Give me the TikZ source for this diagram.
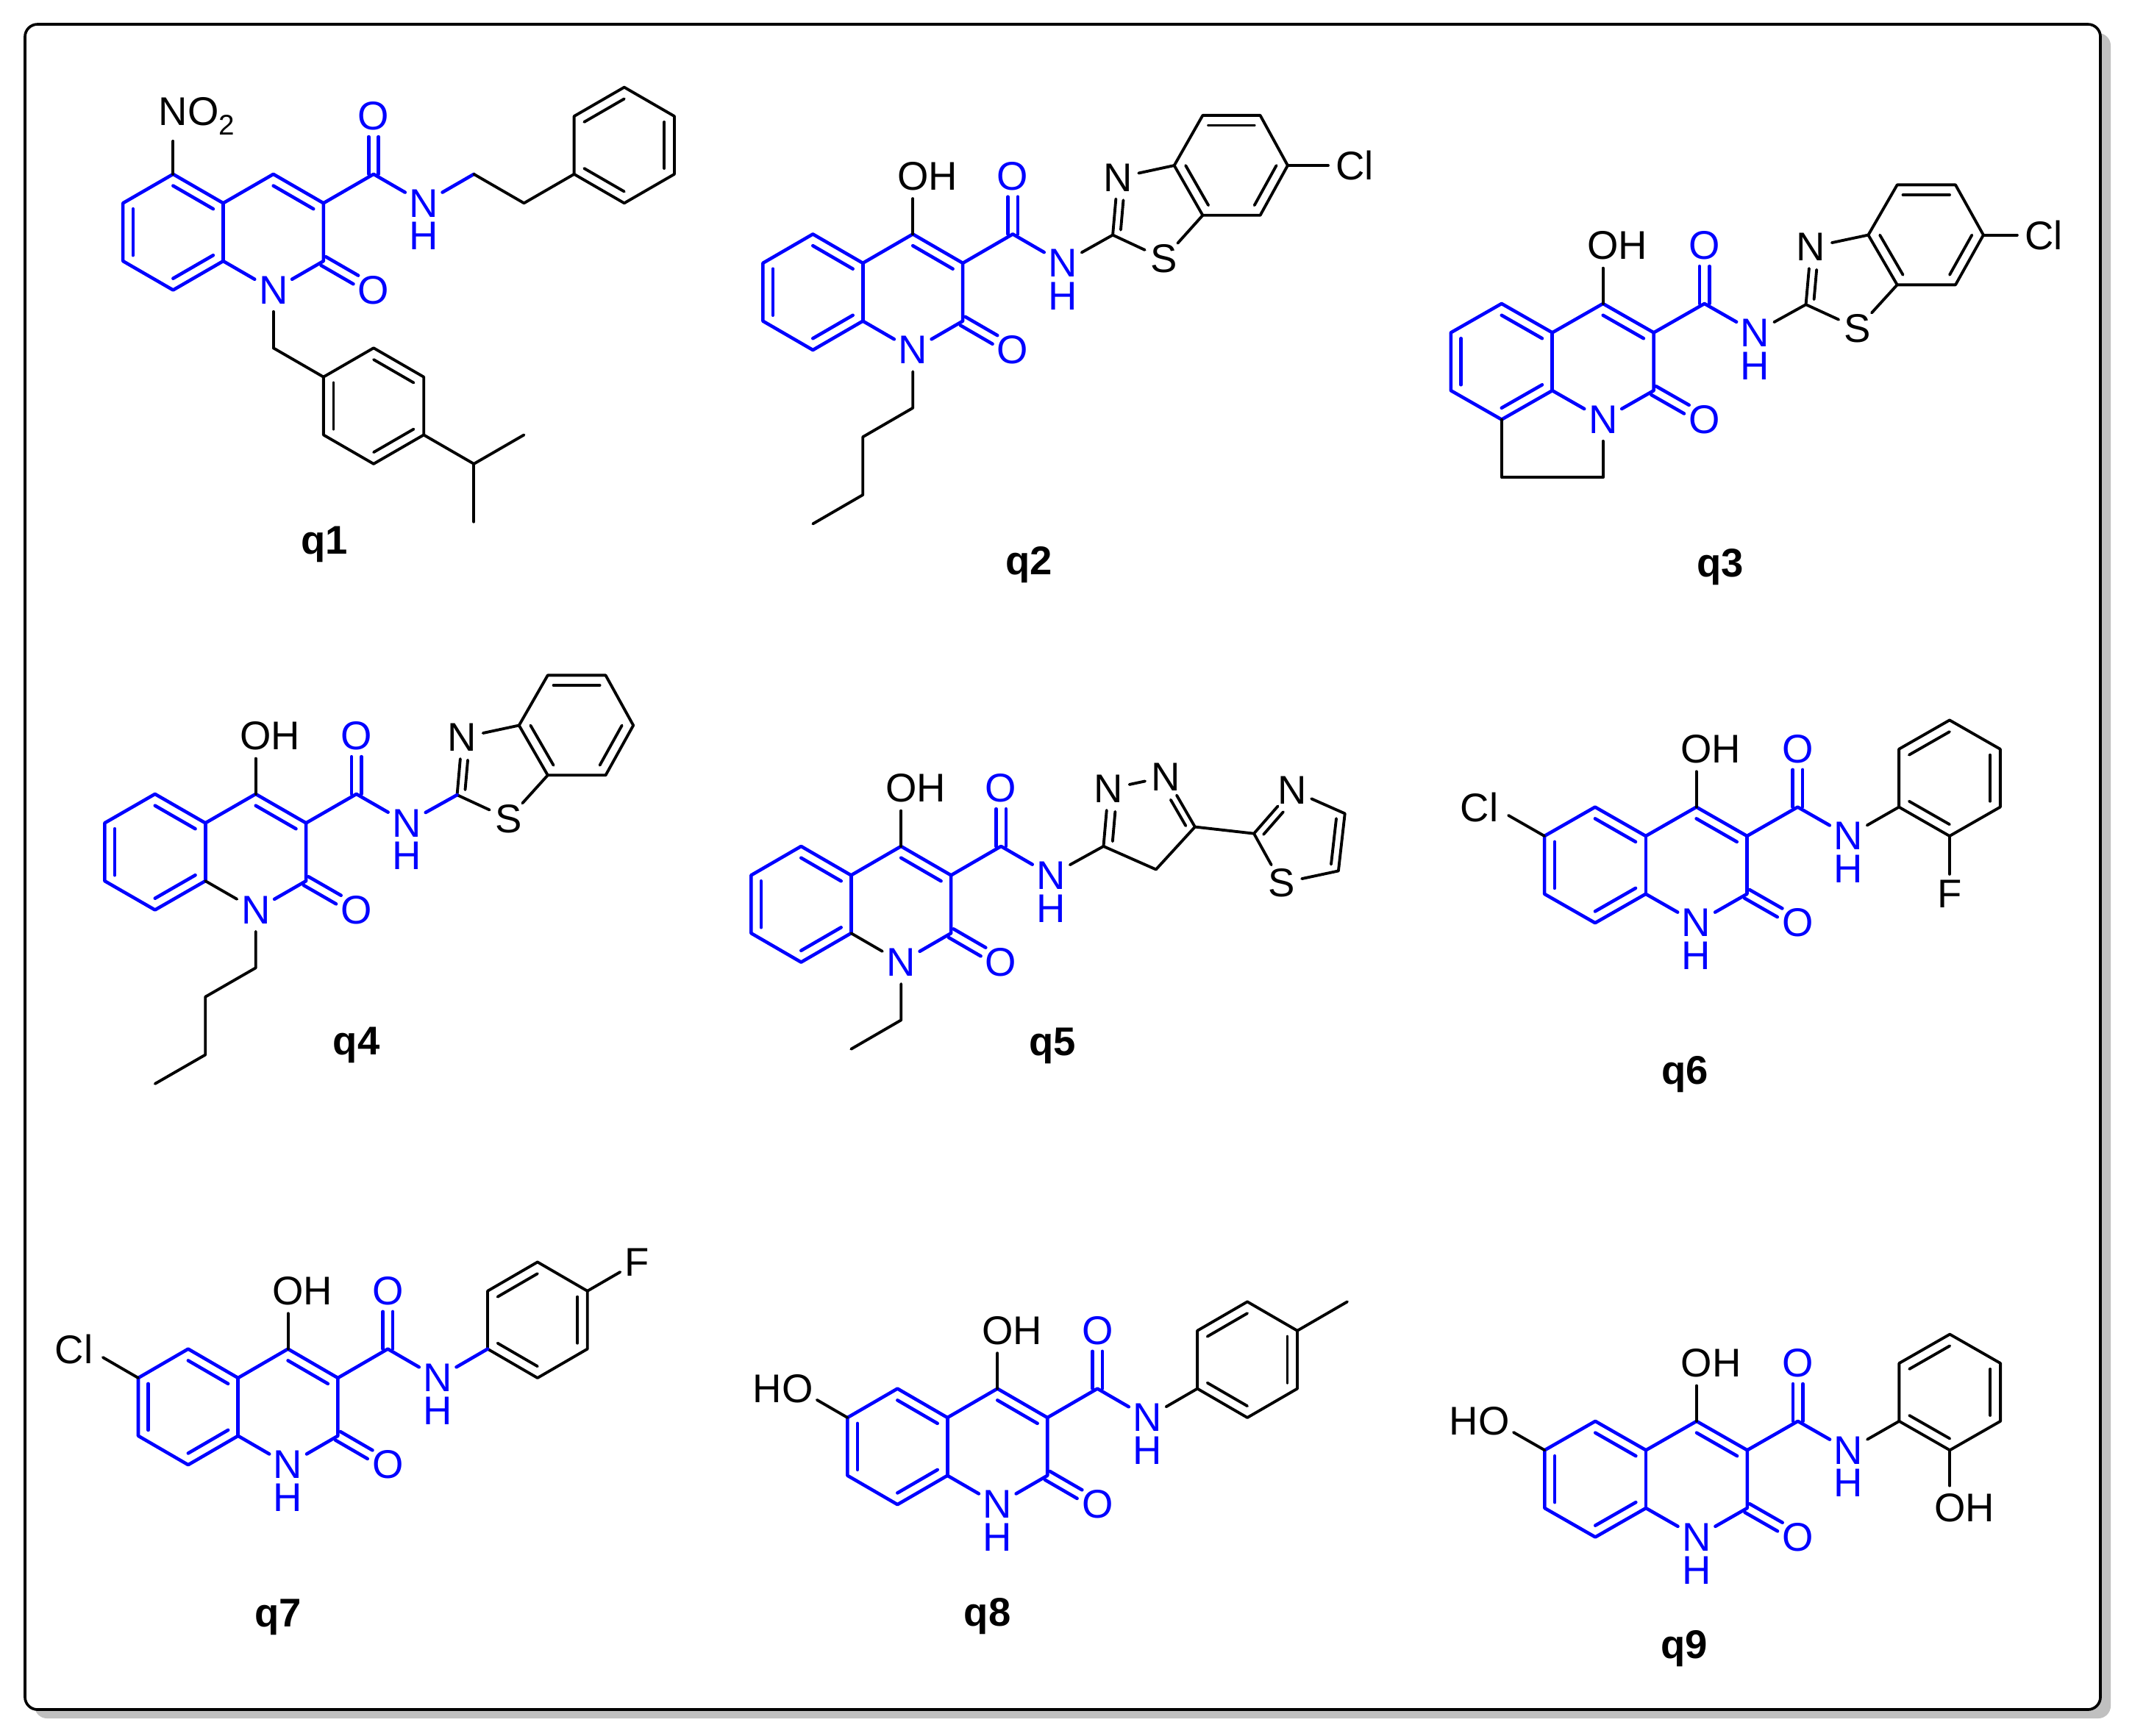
\documentclass[tikz,border=0pt]{standalone}
\usepackage{fontspec}
\setmainfont{Liberation Sans}
\usetikzlibrary{calc}
\definecolor{shadowgrey}{RGB}{192,192,192}
\tikzset{
	atom/.style={circle,inner sep=0pt,font=\fontsize{15.5pt}{18pt}\selectfont},
	qlabel/.style={anchor=base,font=\fontsize{15.5pt}{18pt}\selectfont\bfseries},
	blueb/.style={blue,line width=1.3pt},
	ishort/.style={shorten >=.22cm},
	mol/.style n args={3}{shift={(#1*0.01,-#2*0.01)},x=#3*0.01cm,y=-.394cm}
}
\newcommand{\ibond}[4][]{\draw[#1] ($(#4)!.8!(#2)$) -- ($(#4)!.8!(#3)$);}
\newcommand{\cbond}[2]{\foreach \ua/\ub in {90/-90,-90/90}
	\draw[shorten >=.28cm] ($(#1)!.067cm!\ua:(#2)$) -- ($(#2)!.067cm!\ub:(#1)$);}
\newcommand{\qcore}[1][blueb]{
	\begin{scope}[blueb]
	\foreach \n/\px/\py in {c4a/0/0,c8a/0/2,c4/1/-1,c3/2/0,c2/2/2,co/3/-1,c5/-1/-1,c6/-2/0,c7/-2/2,c8/-1/3,rb/-1/1,rp/1/1}
	\coordinate (\n) at (\px,\py);
	\node[atom] (n1) at (1,3) {N};
	\node[atom] (o2) at (3,3) {O};
	\node[atom] (o3) at (3,-3) {O};
	\node[atom] (nh) at (4,0) {N};
	\node[atom] (hh) at (4,1.14) {H};
	\draw (c4a) -- (c8a);
	\draw (c4a) -- (c5) -- (c6) -- (c7) -- (c8) -- (c8a);
	\draw (c4a) -- (c4) -- (c3) -- (c2) -- (n1);
	\draw (c3) -- (co) -- (nh);
	\foreach \ua/\ub/\uc in {c5/c4a/rb,c6/c7/rb,c8/c8a/rb,c4/c3/rp}
	{\ibond{\ua}{\ub}{\uc}}
	\cbond{co}{o3}
	\cbond{c2}{o2}
	\end{scope}
	\draw[#1] (c8a) -- (n1);
}
\newcommand{\phenyl}[3]{
	\coordinate (pc) at (#1,#2);
	\coordinate (p1) at (#1-1,#2+1);
	\coordinate (p2) at (#1-1,#2-1);
	\coordinate (p3) at (#1,#2-2);
	\coordinate (p4) at (#1+1,#2-1);
	\coordinate (p5) at (#1+1,#2+1);
	\coordinate (p6) at (#1,#2+2);
	\draw (p1) -- (p2) -- (p3) -- (p4) -- (p5) -- (p6) -- cycle;
	\foreach \ua/\ub in {#3}
	{\ibond{p\ua}{p\ub}{pc}}
}
\newcommand{\bthz}{
	\coordinate (t2) at (5,-.97);
	\node[atom] (tn) at (5.1,-2.95) {N};
	\node[atom] (ts) at (6.02,-.15) {S};
	\foreach \n/\px/\py in {t3a/6.23/-3.37,t7a/6.8/-1.65,b4/6.8/-5.1,b5/7.95/-5.1,b6/8.5/-3.37,b7/7.95/-1.65,bz/7.37/-3.37,tc/5.8/-1.85}
	\coordinate (\n) at (\px,\py);
	\draw (t2) -- (tn) -- (t3a) -- (t7a) -- (ts) -- (t2);
	\draw (t3a) -- (b4) -- (b5) -- (b6) -- (b7) -- (t7a);
	\ibond[ishort]{t2}{tn}{tc}
	\ibond{t3a}{t7a}{bz}
	\ibond{b4}{b5}{bz}
	\ibond{b6}{b7}{bz}
}
\begin{document}
\begin{tikzpicture}[line width=1.1pt,line cap=round,line join=round]
	\useasboundingbox (0,0) rectangle (28.99,-23.6);
	\fill[shadowgrey,rounded corners=.17cm] (.47,-.45) rectangle (28.70,-23.37);
	\draw[fill=white,line width=1.05pt,rounded corners=.17cm] (.34,-.33) rectangle (28.56,-23.25);

	\begin{scope}[mol={303.7}{276.4}{68.2}]
		\qcore
		\node[atom] (no) at (-1,-3) {N\rlap{O\raisebox{-3.6pt}{\fontsize{11pt}{11pt}\selectfont 2}}};
		\draw (c5) -- (no);
		\coordinate (e1) at (5,-1);
		\coordinate (e2) at (6,0);
		\draw[blueb] (nh) -- (e1);
		\draw (e1) -- (e2);
		\phenyl{8}{-2}{2/3,4/5,1/6}
		\draw (e2) -- (p1);
		\coordinate (bn) at (1,5);
		\draw (n1) -- (bn);
		\phenyl{3}{7}{3/4,1/2,5/6}
		\draw (bn) -- (p2);
		\coordinate (ip) at (5,9);
		\coordinate (m1) at (6,8);
		\coordinate (m2) at (5,11);
		\draw (p5) -- (ip) -- (m1);
		\draw (ip) -- (m2);
		\node[qlabel] (q1) at (2.02,12.1) {q1};
	\end{scope}

	\begin{scope}[mol={1173.9}{358}{68}]
		\qcore
		\node[atom] (oh) at (1,-3) {O\rlap{H}};
		\draw (c4) -- (oh);
		\bthz
		\draw (nh) -- (t2);
		\node[atom] (cl) at (9.75,-3.37) {C\rlap{l}};
		\draw (b6) -- (cl);
		\coordinate (a1) at (1,5);
		\coordinate (a2) at (0,6);
		\coordinate (a3) at (0,8);
		\coordinate (a4) at (-1,9);
		\draw (n1) -- (a1) -- (a2) -- (a3) -- (a4);
		\node[qlabel] (q2) at (3.32,10.75) {q2};
	\end{scope}

	\begin{scope}[mol={2111.9}{452.6}{69}]
		\qcore
		\node[atom] (oh) at (1,-3) {O\rlap{H}};
		\draw (c4) -- (oh);
		\bthz
		\draw (nh) -- (t2);
		\node[atom] (cl) at (9.6,-3.37) {C\rlap{l}};
		\draw (b6) -- (cl);
		\coordinate (a1) at (-1,5);
		\coordinate (a2) at (1,5);
		\draw (c8) -- (a1) -- (a2) -- (n1);
		\node[qlabel] (q3) at (3.31,8.44) {q3};
	\end{scope}

	\begin{scope}[mol={279.4}{1119.9}{68.5}]
		\qcore[black]
		\node[atom] (oh) at (1,-3) {O\rlap{H}};
		\draw (c4) -- (oh);
		\bthz
		\draw[blueb] (nh) -- (t2);
		\coordinate (a1) at (1,5);
		\coordinate (a2) at (0,6);
		\coordinate (a3) at (0,8);
		\coordinate (a4) at (-1,9);
		\draw (n1) -- (a1) -- (a2) -- (a3) -- (a4);
		\node[qlabel] (q4) at (3,8) {q4};
	\end{scope}

	\begin{scope}[mol={1157.9}{1191}{68}]
		\qcore[black]
		\node[atom] (oh) at (1,-3) {O\rlap{H}};
		\draw (c4) -- (oh);
		\foreach \n/\px/\py in {z3/5.05/-1,z5/6.88/-1.67,z4/6.1/-.2,zc/5.96/-1.85,h2/8.06/-1.44,h4/9.88/-2.13,h5/9.75/-.15,hc/9.02/-1.28}
		\coordinate (\n) at (\px,\py);
		\node[atom] (zn1) at (5.15,-2.98) {N};
		\node[atom] (zn2) at (6.3,-3.4) {N};
		\node[atom] (hn) at (8.82,-2.94) {N};
		\node[atom] (hs) at (8.61,.27) {S};
		\draw (nh) -- (z3) -- (zn1) -- (zn2) -- (z5) -- (z4) -- (z3);
		\draw (z5) -- (h2) -- (hn) -- (h4) -- (h5) -- (hs) -- (h2);
		\ibond[ishort]{z3}{zn1}{zc}
		\ibond[ishort]{z5}{zn2}{zc}
		\ibond[ishort]{h2}{hn}{hc}
		\ibond{h4}{h5}{hc}
		\coordinate (a1) at (1,5);
		\coordinate (a2) at (0,6);
		\draw (n1) -- (a1) -- (a2);
		\node[qlabel] (q5) at (4.03,6.23) {q5};
	\end{scope}

	\begin{scope}[mol={2239}{1137.6}{68.9}]
		\qcore
		\node[atom,blue] (h1) at (1,4.14) {H};
		\node[atom] (oh) at (1,-3) {O\rlap{H}};
		\draw (c4) -- (oh);
		\node[atom] (cl) at (-3,-1) {\llap{C}l};
		\draw (c6) -- (cl);
		\phenyl{6}{-2}{2/3,4/5,1/6}
		\draw (nh) -- (p1);
		\node[atom] (fl) at (6,2) {F};
		\draw (p6) -- (fl);
		\node[qlabel] (q6) at (.77,8.57) {q6};
	\end{scope}

	\begin{scope}[mol={323.9}{1875}{67.9}]
		\qcore
		\node[atom,blue] (h1) at (1,4.14) {H};
		\node[atom] (oh) at (1,-3) {O\rlap{H}};
		\draw (c4) -- (oh);
		\node[atom] (cl) at (-3,-1) {\llap{C}l};
		\draw (c6) -- (cl);
		\phenyl{6}{-2}{2/3,4/5,1/6}
		\draw[blueb] (nh) -- (p1);
		\node[atom] (fl) at (8,-4) {F};
		\draw (p4) -- (fl);
		\node[qlabel] (q7) at (.8,8.58) {q7};
	\end{scope}

	\begin{scope}[mol={1289}{1929}{68}]
		\qcore
		\node[atom,blue] (h1) at (1,4.14) {H};
		\node[atom] (oh) at (1,-3) {O\rlap{H}};
		\draw (c4) -- (oh);
		\node[atom] (ho) at (-3,-1) {\llap{H}O};
		\draw (c6) -- (ho);
		\phenyl{6}{-2}{2/3,4/5,1/6}
		\draw (nh) -- (p1);
		\coordinate (me) at (8,-4);
		\draw (p4) -- (me);
		\node[qlabel] (q8) at (.8,7.2) {q8};
	\end{scope}

	\begin{scope}[mol={2239.3}{1973.3}{68.9}]
		\qcore
		\node[atom,blue] (h1) at (1,4.14) {H};
		\node[atom] (oh) at (1,-3) {O\rlap{H}};
		\draw (c4) -- (oh);
		\node[atom] (ho) at (-3,-1) {\llap{H}O};
		\draw (c6) -- (ho);
		\phenyl{6}{-2}{2/3,4/5,1/6}
		\draw (nh) -- (p1);
		\node[atom] (oh2) at (6,2) {O\rlap{H}};
		\draw (p6) -- (oh2);
		\node[qlabel] (q9) at (.76,7.2) {q9};
	\end{scope}
\end{tikzpicture}
\end{document}
